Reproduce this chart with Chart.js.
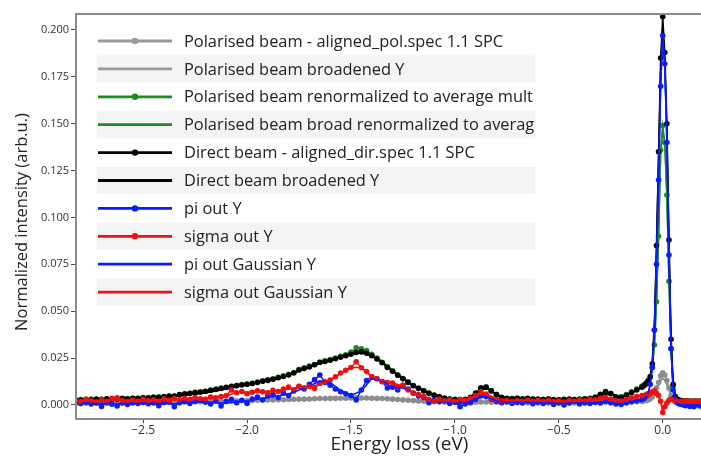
<!DOCTYPE html>
<html>
<head>
<meta charset="utf-8">
<script src="https://cdn.jsdelivr.net/npm/chart.js@4.4.0/dist/chart.umd.min.js"></script>
<style>
  html, body { margin: 0; padding: 0; overflow: hidden; background: #fff; }
  #wrap { width: 701px; height: 456px; overflow: hidden; }
</style>
</head>
<body>
<div id="wrap"><canvas id="eels" width="727" height="456"></canvas></div>
<script>
// energy grid of the measured spectra (eV)
const energy = [
  -2.825,-2.8,-2.775,-2.75,-2.725,-2.7,-2.675,-2.65,-2.625,-2.6,
  -2.575,-2.55,-2.525,-2.5,-2.475,-2.45,-2.425,-2.4,-2.375,-2.35,
  -2.325,-2.3,-2.275,-2.25,-2.225,-2.2,-2.175,-2.15,-2.125,-2.1,
  -2.075,-2.05,-2.025,-2.0,-1.975,-1.95,-1.925,-1.9,-1.875,-1.85,
  -1.825,-1.8,-1.775,-1.75,-1.725,-1.7,-1.675,-1.65,-1.625,-1.6,
  -1.575,-1.55,-1.525,-1.5,-1.475,-1.45,-1.425,-1.4,-1.375,-1.35,
  -1.325,-1.3,-1.275,-1.25,-1.225,-1.2,-1.175,-1.15,-1.125,-1.1,
  -1.075,-1.05,-1.025,-1.0,-0.975,-0.95,-0.925,-0.9,-0.875,-0.85,
  -0.825,-0.8,-0.775,-0.75,-0.725,-0.7,-0.675,-0.65,-0.625,-0.6,
  -0.575,-0.55,-0.525,-0.5,-0.475,-0.45,-0.425,-0.4,-0.375,-0.35,
  -0.325,-0.3,-0.275,-0.25,-0.225,-0.2,-0.175,-0.15,-0.125,-0.1,
  -0.09,-0.08,-0.07,-0.06,-0.05,-0.04,-0.03,-0.02,-0.01,0,
  0.01,0.02,0.03,0.04,0.05,0.06,0.07,0.08,0.09,0.1,
  0.11,0.12,0.13,0.14,0.15,0.16,0.17,0.18,0.19,0.2
];

// Polarised beam - aligned_pol.spec 1.1 SPC
const polRaw = [
  0.0008,0.0008,0.0009,0.0008,0.0009,0.0009,0.0010,0.0009,0.0010,0.0010,
  0.0010,0.0011,0.0011,0.0012,0.0012,0.0012,0.0013,0.0013,0.0014,0.0014,
  0.0015,0.0015,0.0016,0.0017,0.0017,0.0018,0.0019,0.0019,0.0020,0.0021,
  0.0021,0.0022,0.0023,0.0023,0.0024,0.0025,0.0025,0.0026,0.0027,0.0028,
  0.0028,0.0029,0.0030,0.0031,0.0031,0.0032,0.0033,0.0034,0.0034,0.0035,
  0.0035,0.0036,0.0036,0.0037,0.0038,0.0037,0.0037,0.0036,0.0035,0.0034,
  0.0033,0.0031,0.0029,0.0027,0.0025,0.0023,0.0021,0.0020,0.0018,0.0017,
  0.0016,0.0015,0.0014,0.0014,0.0013,0.0013,0.0014,0.0015,0.0016,0.0016,
  0.0015,0.0014,0.0013,0.0013,0.0012,0.0012,0.0012,0.0012,0.0011,0.0011,
  0.0011,0.0011,0.0010,0.0010,0.0010,0.0010,0.0010,0.0010,0.0011,0.0011,
  0.0012,0.0013,0.0014,0.0013,0.0013,0.0013,0.0014,0.0015,0.0017,0.0019,
  0.0021,0.0023,0.0027,0.0033,0.0042,0.0060,0.0090,0.0120,0.0155,0.0172,
  0.0160,0.0130,0.0090,0.0050,0.0028,0.0016,0.0012,0.0010,0.0009,0.0009,
  0.0009,0.0008,0.0008,0.0008,0.0008,0.0008,0.0008,0.0008,0.0008,0.0008
];

// Polarised beam renormalized to average mult
const polRenorm = [
  0.0027,0.0029,0.0026,0.0031,0.0028,0.0032,0.0030,0.0033,0.0030,0.0035,
  0.0034,0.0035,0.0037,0.0036,0.0040,0.0041,0.0043,0.0045,0.0046,0.0049,
  0.0054,0.0060,0.0061,0.0067,0.0070,0.0072,0.0080,0.0083,0.0090,0.0093,
  0.0100,0.0102,0.0109,0.0111,0.0116,0.0122,0.0126,0.0134,0.0139,0.0147,
  0.0155,0.0163,0.0170,0.0189,0.0197,0.0207,0.0216,0.0229,0.0236,0.0242,
  0.0250,0.0260,0.0268,0.0282,0.0305,0.0300,0.0290,0.0270,0.0250,0.0228,
  0.0203,0.0182,0.0160,0.0141,0.0123,0.0104,0.0090,0.0076,0.0063,0.0053,
  0.0045,0.0037,0.0032,0.0030,0.0028,0.0030,0.0041,0.0063,0.0091,0.0094,
  0.0076,0.0056,0.0041,0.0035,0.0034,0.0036,0.0033,0.0035,0.0032,0.0031,
  0.0030,0.0032,0.0029,0.0028,0.0030,0.0031,0.0030,0.0031,0.0033,0.0036,
  0.0042,0.0057,0.0072,0.0062,0.0044,0.0043,0.0056,0.0070,0.0085,0.0100,
  0.0108,0.0118,0.0132,0.0150,0.0200,0.0320,0.0550,0.0900,0.1360,0.1490,
  0.1400,0.1120,0.0660,0.0300,0.0100,0.0042,0.0030,0.0026,0.0023,0.0021,
  0.0020,0.0021,0.0019,0.0020,0.0018,0.0020,0.0019,0.0020,0.0018,0.0019
];

// Direct beam - aligned_dir.spec 1.1 SPC
const direct = [
  0.0028,0.0025,0.0030,0.0026,0.0031,0.0028,0.0033,0.0029,0.0031,0.0034,
  0.0032,0.0036,0.0034,0.0038,0.0037,0.0041,0.0040,0.0044,0.0047,0.0046,
  0.0055,0.0058,0.0062,0.0066,0.0068,0.0073,0.0078,0.0084,0.0088,0.0094,
  0.0098,0.0103,0.0106,0.0110,0.0114,0.0120,0.0127,0.0131,0.0137,0.0145,
  0.0152,0.0160,0.0172,0.0186,0.0195,0.0203,0.0214,0.0226,0.0232,0.0238,
  0.0246,0.0255,0.0262,0.0270,0.0280,0.0283,0.0276,0.0262,0.0245,0.0225,
  0.0200,0.0180,0.0158,0.0140,0.0120,0.0102,0.0088,0.0075,0.0062,0.0052,
  0.0044,0.0036,0.0031,0.0029,0.0027,0.0029,0.0040,0.0062,0.0090,0.0095,
  0.0075,0.0055,0.0040,0.0034,0.0033,0.0035,0.0032,0.0034,0.0031,0.0030,
  0.0029,0.0031,0.0028,0.0027,0.0029,0.0030,0.0028,0.0030,0.0032,0.0034,
  0.0040,0.0055,0.0070,0.0060,0.0042,0.0040,0.0052,0.0065,0.0080,0.0095,
  0.0102,0.0112,0.0128,0.0150,0.0220,0.0400,0.0850,0.1350,0.1850,0.2070,
  0.1880,0.1500,0.0880,0.0350,0.0110,0.0045,0.0030,0.0025,0.0022,0.0020,
  0.0021,0.0019,0.0020,0.0018,0.0019,0.0020,0.0018,0.0019,0.0020,0.0018
];

// pi out Y
const piOut = [
  0.0012,0.0008,0.0015,0.0005,0.0010,-0.0008,0.0012,0.0004,-0.0006,0.0010,
  0.0002,0.0012,0.0008,0.0015,0.0006,0.0011,-0.0004,0.0013,0.0016,-0.0010,
  0.0012,0.0020,0.0008,0.0018,0.0025,0.0014,0.0005,0.0022,-0.0006,0.0018,
  0.0030,0.0012,0.0025,0.0008,0.0032,0.0042,0.0028,0.0048,0.0055,0.0040,
  0.0062,0.0050,0.0075,0.0098,0.0085,0.0110,0.0135,0.0160,0.0120,0.0105,
  0.0085,0.0070,0.0060,0.0050,0.0027,0.0080,0.0130,0.0150,0.0140,0.0125,
  0.0090,0.0095,0.0080,0.0105,0.0085,0.0062,0.0048,0.0040,0.0012,0.0025,
  0.0018,0.0022,0.0008,0.0015,-0.0010,0.0005,0.0012,0.0030,0.0052,0.0045,
  0.0030,0.0020,0.0012,0.0018,0.0008,0.0015,0.0010,0.0020,0.0006,0.0014,
  0.0008,0.0016,0.0002,0.0012,0.0000,0.0010,0.0018,0.0005,0.0012,0.0008,
  0.0015,0.0010,0.0020,0.0012,0.0005,0.0002,0.0010,0.0018,0.0022,0.0028,
  0.0035,0.0045,0.0060,0.0110,0.0200,0.0400,0.0750,0.1200,0.1700,0.1970,
  0.1820,0.1400,0.0800,0.0300,0.0080,0.0030,0.0012,0.0005,0.0002,0.0000,
  -0.0004,0.0003,-0.0008,0.0002,-0.0010,0.0000,0.0004,-0.0006,0.0002,0.0000
];

// sigma out Y
const sigmaOut = [
  0.0025,0.0018,0.0030,0.0022,0.0016,0.0028,0.0020,0.0035,0.0038,0.0024,
  0.0018,0.0026,0.0020,0.0030,0.0022,0.0027,0.0019,0.0031,0.0025,0.0034,
  0.0028,0.0036,0.0030,0.0040,0.0033,0.0030,0.0042,0.0038,0.0045,0.0050,
  0.0080,0.0065,0.0072,0.0060,0.0068,0.0075,0.0070,0.0065,0.0078,0.0072,
  0.0085,0.0095,0.0080,0.0100,0.0092,0.0098,0.0088,0.0115,0.0125,0.0133,
  0.0150,0.0170,0.0185,0.0200,0.0230,0.0198,0.0178,0.0150,0.0140,0.0124,
  0.0120,0.0117,0.0095,0.0105,0.0080,0.0064,0.0055,0.0045,0.0030,0.0020,
  0.0030,0.0022,0.0028,0.0018,0.0030,0.0025,0.0035,0.0050,0.0070,0.0058,
  0.0035,0.0028,0.0022,0.0025,0.0018,0.0024,0.0020,0.0026,0.0019,0.0023,
  0.0020,0.0025,0.0018,0.0022,0.0016,0.0024,0.0020,0.0028,0.0022,0.0030,
  0.0028,0.0035,0.0040,0.0030,0.0022,0.0020,0.0030,0.0038,0.0045,0.0050,
  0.0048,0.0055,0.0052,0.0060,0.0070,0.0075,0.0062,0.0050,0.0020,-0.0040,
  -0.0010,0.0010,0.0025,0.0032,0.0028,0.0022,0.0020,0.0018,0.0019,0.0017,
  0.0022,0.0018,0.0020,0.0016,0.0021,0.0019,0.0017,0.0020,0.0018,0.0019
];

// coarser grid of the broadened / Gaussian curves (eV)
const energySmooth = [
  -2.8,-2.75,-2.7,-2.65,-2.6,-2.55,-2.5,-2.45,-2.4,-2.35,
  -2.3,-2.25,-2.2,-2.15,-2.1,-2.05,-2.0,-1.95,-1.9,-1.85,
  -1.8,-1.75,-1.7,-1.65,-1.6,-1.55,-1.5,-1.45,-1.4,-1.35,
  -1.3,-1.25,-1.2,-1.15,-1.1,-1.05,-1.0,-0.95,-0.9,-0.85,
  -0.8,-0.75,-0.7,-0.65,-0.6,-0.55,-0.5,-0.45,-0.4,-0.35,
  -0.3,-0.25,-0.2,-0.15,-0.1,
  -0.09,-0.08,-0.07,-0.06,-0.05,-0.04,-0.03,-0.02,-0.01,0,
  0.01,0.02,0.03,0.04,0.05,0.06,0.07,0.08,0.09,0.1,
  0.15,0.2
];

const polBroad = [
  0.0006,0.0007,0.0007,0.0008,0.0009,0.0009,0.0010,0.0011,0.0012,0.0013,
  0.0014,0.0015,0.0016,0.0017,0.0018,0.0020,0.0021,0.0022,0.0024,0.0025,
  0.0026,0.0027,0.0029,0.0030,0.0031,0.0032,0.0033,0.0033,0.0032,0.0031,
  0.0029,0.0026,0.0022,0.0019,0.0016,0.0014,0.0012,0.0011,0.0012,0.0013,
  0.0012,0.0011,0.0010,0.0009,0.0009,0.0009,0.0008,0.0008,0.0009,0.0009,
  0.0010,0.0011,0.0011,0.0013,0.0016,
  0.0018,0.0021,0.0025,0.0031,0.0040,0.0055,0.0078,0.0105,0.0130,0.0140,
  0.0132,0.0108,0.0078,0.0050,0.0030,0.0018,0.0012,0.0009,0.0008,0.0007,
  0.0006,0.0006
];

const polBroadRenorm = [
  0.0027,0.0029,0.0030,0.0031,0.0033,0.0035,0.0037,0.0040,0.0044,0.0047,
  0.0054,0.0060,0.0066,0.0076,0.0088,0.0100,0.0110,0.0120,0.0132,0.0145,
  0.0160,0.0185,0.0204,0.0226,0.0240,0.0258,0.0278,0.0295,0.0270,0.0232,
  0.0186,0.0145,0.0106,0.0078,0.0055,0.0038,0.0030,0.0031,0.0062,0.0092,
  0.0057,0.0036,0.0035,0.0034,0.0031,0.0031,0.0029,0.0030,0.0031,0.0034,
  0.0055,0.0062,0.0043,0.0068,0.0098,
  0.0105,0.0115,0.0130,0.0150,0.0200,0.0320,0.0550,0.0900,0.1340,0.1470,
  0.1390,0.1110,0.0660,0.0300,0.0110,0.0045,0.0030,0.0026,0.0023,0.0021,
  0.0020,0.0019
];

const directBroad = [
  0.0027,0.0029,0.0030,0.0031,0.0033,0.0035,0.0037,0.0040,0.0043,0.0046,
  0.0052,0.0058,0.0064,0.0074,0.0085,0.0098,0.0108,0.0118,0.0130,0.0143,
  0.0158,0.0182,0.0200,0.0222,0.0236,0.0253,0.0268,0.0278,0.0260,0.0226,
  0.0182,0.0142,0.0104,0.0076,0.0053,0.0037,0.0029,0.0030,0.0060,0.0092,
  0.0056,0.0035,0.0034,0.0033,0.0030,0.0030,0.0028,0.0029,0.0030,0.0033,
  0.0054,0.0060,0.0040,0.0064,0.0094,
  0.0100,0.0110,0.0126,0.0150,0.0240,0.0440,0.0820,0.1300,0.1780,0.2000,
  0.1820,0.1460,0.0860,0.0360,0.0120,0.0048,0.0030,0.0025,0.0022,0.0020,
  0.0019,0.0018
];

const piGauss = [
  0.0008,0.0008,0.0007,0.0007,0.0006,0.0007,0.0008,0.0008,0.0007,0.0006,
  0.0010,0.0014,0.0015,0.0012,0.0010,0.0016,0.0022,0.0030,0.0040,0.0048,
  0.0058,0.0080,0.0100,0.0128,0.0120,0.0078,0.0050,0.0075,0.0140,0.0128,
  0.0092,0.0090,0.0068,0.0044,0.0022,0.0017,0.0008,0.0010,0.0030,0.0045,
  0.0022,0.0016,0.0013,0.0014,0.0012,0.0010,0.0008,0.0010,0.0010,0.0011,
  0.0012,0.0012,0.0006,0.0016,0.0027,
  0.0034,0.0044,0.0062,0.0112,0.0205,0.0405,0.0760,0.1210,0.1710,0.1965,
  0.1815,0.1395,0.0795,0.0300,0.0082,0.0030,0.0012,0.0005,0.0002,0.0000,
  -0.0003,0.0000
];

const sigmaGauss = [
  0.0024,0.0024,0.0025,0.0025,0.0026,0.0024,0.0025,0.0025,0.0026,0.0027,
  0.0030,0.0033,0.0034,0.0038,0.0045,0.0070,0.0068,0.0070,0.0072,0.0075,
  0.0085,0.0095,0.0095,0.0110,0.0130,0.0168,0.0200,0.0200,0.0150,0.0130,
  0.0118,0.0100,0.0066,0.0045,0.0022,0.0024,0.0022,0.0028,0.0048,0.0062,
  0.0030,0.0024,0.0022,0.0023,0.0021,0.0021,0.0020,0.0021,0.0022,0.0025,
  0.0034,0.0030,0.0022,0.0036,0.0048,
  0.0048,0.0053,0.0054,0.0060,0.0068,0.0072,0.0062,0.0048,0.0022,-0.0035,
  -0.0010,0.0010,0.0024,0.0030,0.0027,0.0022,0.0020,0.0018,0.0019,0.0018,
  0.0019,0.0019
];

const xTicks = [-2.5, -2.0, -1.5, -1.0, -0.5, 0.0];
const yTicks = [0, 0.025, 0.05, 0.075, 0.1, 0.125, 0.15, 0.175, 0.2];

const seriesNames = [
  'Polarised beam - aligned_pol.spec 1.1 SPC',
  'Polarised beam broadened Y',
  'Polarised beam renormalized to average mult',
  'Polarised beam broad renormalized to averag',
  'Direct beam - aligned_dir.spec 1.1 SPC',
  'Direct beam broadened Y',
  'pi out Y',
  'sigma out Y',
  'pi out Gaussian Y',
  'sigma out Gaussian Y'
];
const seriesX = [energy, energySmooth, energy, energySmooth, energy, energySmooth, energy, energy, energySmooth, energySmooth];
const seriesY = [polRaw, polBroad, polRenorm, polBroadRenorm, direct, directBroad, piOut, sigmaOut, piGauss, sigmaGauss];
const withDots = [true, false, true, false, true, false, true, true, false, false];
const seriesColors = ['#8c8c8c', '#8c8c8c', '#1f8a1f', '#1f8a1f', '#000000', '#000000', '#0a1cff', '#f01010', '#0a1cff', '#f01010'];

const FONT = "'Open Sans', 'Liberation Sans', sans-serif";
const yTitle = 'Normalized intensity (arb.u.)';

const datasets = seriesNames.map((name, i) => ({
  label: name,
  data: seriesX[i].map((x, k) => ({ x: x, y: seriesY[i][k] })),
  showLine: true,
  borderColor: seriesColors[i],
  backgroundColor: seriesColors[i],
  borderWidth: withDots[i] ? 1.5 : 1.6,
  pointRadius: withDots[i] ? 2.8 : 0,
  pointBorderWidth: 0,
  order: seriesNames.length - 1 - i
}));

// frame: left / top / bottom lines (right edge is cut off in the picture),
// plus the y axis title
const framePlugin = {
  id: 'frame',
  afterDraw(chart) {
    const { ctx, chartArea: a } = chart;
    ctx.save();
    ctx.strokeStyle = '#8a8a8a';
    ctx.lineWidth = 2;
    ctx.beginPath();
    ctx.moveTo(a.right + 2, a.top);
    ctx.lineTo(a.left, a.top);
    ctx.lineTo(a.left, a.bottom);
    ctx.lineTo(a.right + 2, a.bottom);
    ctx.stroke();

    ctx.translate(22, 222);
    ctx.rotate(-Math.PI / 2);
    ctx.fillStyle = '#222222';
    ctx.font = "16.5px " + FONT;
    ctx.textAlign = 'center';
    ctx.textBaseline = 'middle';
    ctx.fillText(yTitle, 0, 0);
    ctx.restore();
  }
};

// striped legend in the upper left corner
const legendPlugin = {
  id: 'stripedLegend',
  afterDraw(chart) {
    const ctx = chart.ctx;
    ctx.save();
    ctx.font = "16.4px " + FONT;
    ctx.textBaseline = 'middle';
    seriesNames.forEach((name, i) => {
      const cy = 41 + i * 27.9;
      if (i % 2 === 1) {
        ctx.fillStyle = '#f4f4f4';
        ctx.fillRect(97, cy - 13.5, 438, 27);
      }
      ctx.strokeStyle = i < 2 ? '#999999' : seriesColors[i];
      ctx.lineWidth = 2.8;
      ctx.beginPath();
      ctx.moveTo(98, cy);
      ctx.lineTo(172, cy);
      ctx.stroke();
      if (withDots[i]) {
        ctx.fillStyle = i < 2 ? '#999999' : seriesColors[i];
        ctx.beginPath();
        ctx.arc(135, cy, 3.2, 0, Math.PI * 2);
        ctx.fill();
      }
      ctx.fillStyle = '#222222';
      ctx.fillText(name, 184, cy + 1);
    });
    ctx.restore();
  }
};

const minus = s => s.replace('-', '\u2212');

new Chart(document.getElementById('eels').getContext('2d'), {
  type: 'scatter',
  data: { datasets: datasets },
  options: {
    responsive: false,
    animation: false,
    events: [],
    layout: { padding: { top: 14, right: 1, left: 0, bottom: 0 } },
    plugins: { legend: { display: false }, tooltip: { enabled: false } },
    scales: {
      x: {
        type: 'linear',
        min: -2.823,
        max: 0.29,
        afterBuildTicks: s => { s.ticks = xTicks.map(v => ({ value: v })); },
        afterFit: s => { s.height = 37; },
        ticks: {
          callback: v => minus(Number(v).toFixed(1)),
          font: { family: FONT, size: 12 },
          color: '#333333',
          padding: 0,
          maxRotation: 0
        },
        grid: { drawOnChartArea: false, tickLength: 4, tickColor: '#444444' },
        border: { display: false },
        title: {
          display: true,
          text: 'Energy loss (eV)',
          font: { family: FONT, size: 19 },
          color: '#222222',
          padding: { top: 0, bottom: 0 }
        }
      },
      y: {
        type: 'linear',
        min: -0.0075,
        max: 0.2085,
        afterBuildTicks: s => { s.ticks = yTicks.map(v => ({ value: v })); },
        afterFit: s => { s.width = 76; },
        ticks: {
          callback: v => minus(Number(v).toFixed(3)),
          font: { family: FONT, size: 11 },
          color: '#333333',
          padding: 2
        },
        grid: { drawOnChartArea: false, tickLength: 5, tickColor: '#444444' },
        border: { display: false },
        title: { display: false }
      }
    }
  },
  plugins: [framePlugin, legendPlugin]
});
</script>
</body>
</html>
